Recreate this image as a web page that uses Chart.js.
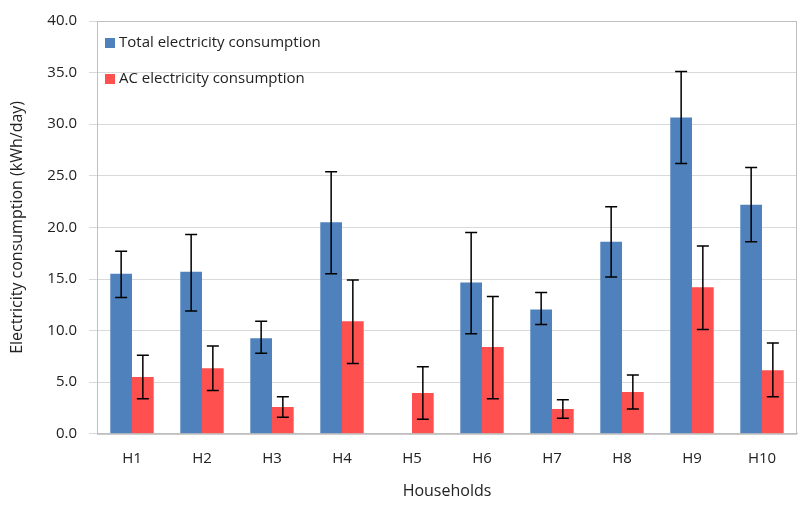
<!DOCTYPE html>
<html>
<head>
<meta charset="utf-8">
<script src="https://cdn.jsdelivr.net/npm/chart.js@4.4.1/dist/chart.umd.min.js"></script>
<style>
  html, body { margin: 0; padding: 0; background: #fff; }
  #wrap { width: 799px; height: 505px; }
</style>
</head>
<body>
<div id="wrap"><canvas id="c"></canvas></div>
<script>
const households = ["H1","H2","H3","H4","H5","H6","H7","H8","H9","H10"];
const totalMean = [15.5, 15.7, 9.25, 20.5, 0, 14.65, 12.05, 18.6, 30.65, 22.2];
const totalHigh = [17.7, 19.3, 10.9, 25.4, null, 19.5, 13.7, 22.0, 35.1, 25.8];
const totalLow  = [13.2, 11.9, 7.8, 15.5, null, 9.7, 10.6, 15.2, 26.2, 18.6];
const acMean = [5.5, 6.35, 2.6, 10.9, 3.95, 8.4, 2.4, 4.05, 14.2, 6.15];
const acHigh = [7.6, 8.5, 3.6, 14.9, 6.5, 13.3, 3.3, 5.7, 18.2, 8.8];
const acLow  = [3.4, 4.2, 1.6, 6.8, 1.4, 3.4, 1.5, 2.4, 10.1, 3.6];

const FONT = "'Open Sans', 'DejaVu Sans', sans-serif";

/** Draw vertical error bars with caps from each dataset's high/low arrays */
const errorBars = {
  id: "errorBars",
  afterDatasetsDraw(chart) {
    const { ctx, scales: { y } } = chart;
    ctx.save();
    ctx.strokeStyle = "#000";
    ctx.lineWidth = 1.5;
    chart.data.datasets.forEach((ds, i) => {
      chart.getDatasetMeta(i).data.forEach((bar, j) => {
        if (ds.high[j] == null) return;
        const x = bar.x, yh = y.getPixelForValue(ds.high[j]), yl = y.getPixelForValue(ds.low[j]);
        ctx.beginPath();
        ctx.moveTo(x, yh); ctx.lineTo(x, yl);
        ctx.moveTo(x - 6, yh); ctx.lineTo(x + 6, yh);
        ctx.moveTo(x - 6, yl); ctx.lineTo(x + 6, yl);
        ctx.stroke();
      });
    });
    ctx.restore();
  }
};

/** Legend inside the plot area, stacked vertically; plus a frame around the plot */
const innerLegend = {
  id: "innerLegend",
  afterDraw(chart) {
    const { ctx, chartArea } = chart;
    ctx.save();
    ctx.strokeStyle = "#bfbfbf";
    ctx.lineWidth = 1;
    ctx.strokeRect(chartArea.left + 0.5, chartArea.top + 0.5,
      chartArea.right - chartArea.left - 1, chartArea.bottom - chartArea.top);
    ctx.font = "15px " + FONT;
    ctx.textBaseline = "middle";
    chart.data.datasets.forEach((ds, i) => {
      const x = chartArea.left + 8, yy = chartArea.top + 22 + i * 36;
      ctx.fillStyle = ds.backgroundColor;
      ctx.fillRect(x, yy - 5, 10, 10);
      ctx.fillStyle = "#222";
      ctx.fillText(ds.label, x + 14, yy);
    });
    ctx.restore();
  }
};

new Chart(document.getElementById("c"), {
  type: "bar",
  data: {
    labels: households,
    datasets: [
      { label: "Total electricity consumption", data: totalMean, high: totalHigh, low: totalLow,
        backgroundColor: "#4f81bd" },
      { label: "AC electricity consumption", data: acMean, high: acHigh, low: acLow,
        backgroundColor: "#ff5050" }
    ]
  },
  options: {
    responsive: true,
    maintainAspectRatio: false,
    animation: false,
    layout: { padding: { top: 16, right: 2, left: 4, bottom: 4 } },
    datasets: { bar: { categoryPercentage: 0.62, barPercentage: 1.0 } },
    plugins: { legend: { display: false }, tooltip: { enabled: false } },
    scales: {
      x: {
        grid: { display: false },
        border: { color: "#bfbfbf" },
        ticks: { color: "#222", font: { family: FONT, size: 15 }, padding: 8 },
        title: { display: true, text: "Households", color: "#222", font: { family: FONT, size: 16 },
          padding: { top: 6, bottom: 0 } }
      },
      y: {
        min: 0, max: 40,
        afterFit: s => { s.width = 93; },
        ticks: { stepSize: 5, color: "#222", font: { family: FONT, size: 15 }, padding: 12,
          callback: v => v.toFixed(1) },
        grid: { color: "#d9d9d9" },
        border: { display: false },
        title: { display: true, text: "Electricity consumption (kWh/day)", color: "#222",
          font: { family: FONT, size: 16 } }
      }
    }
  },
  plugins: [errorBars, innerLegend]
});
</script>
</body>
</html>
